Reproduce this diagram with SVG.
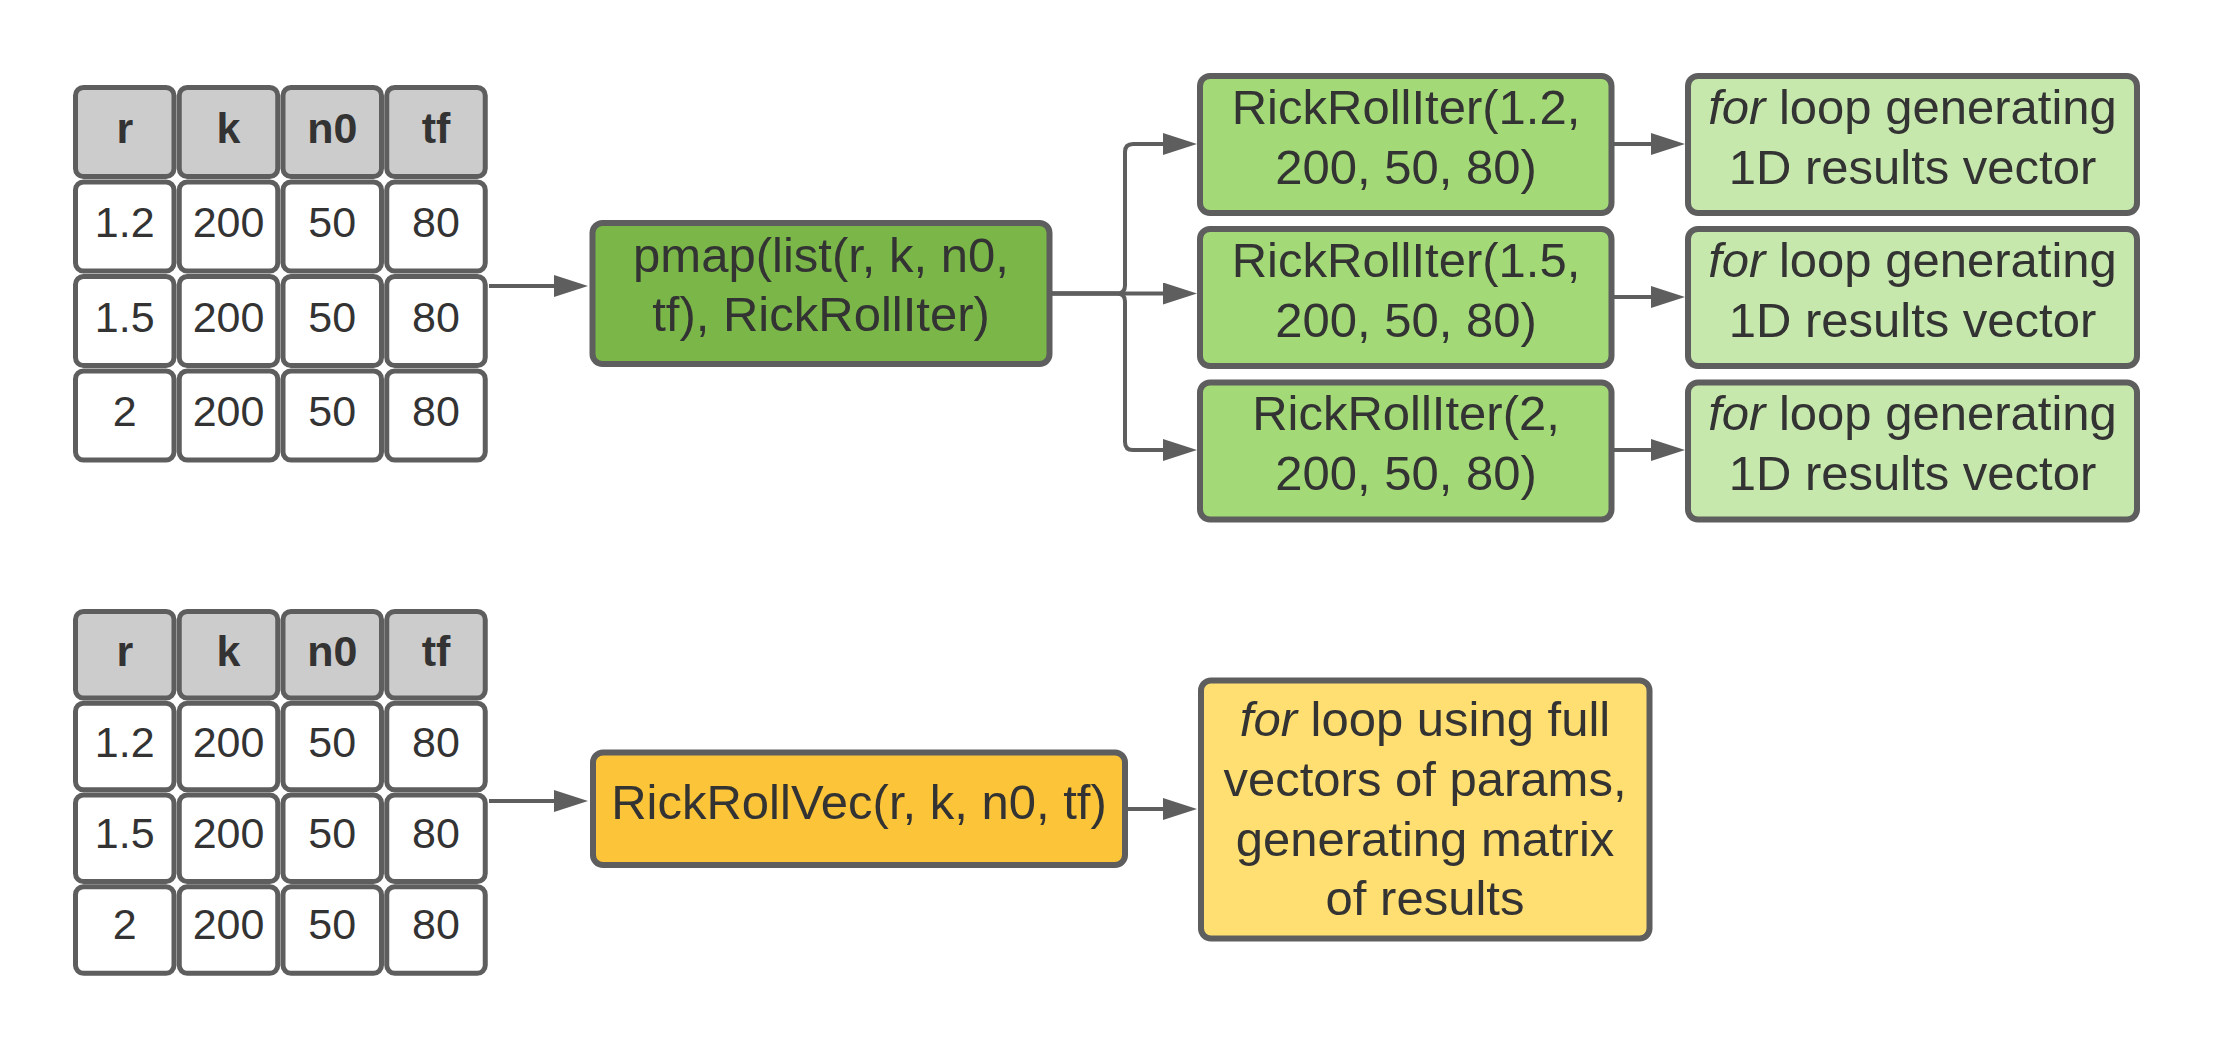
<svg xmlns="http://www.w3.org/2000/svg" width="2213" height="1048" viewBox="0 0 2213 1048">
<style>
.cell{stroke:#5e5e5e;stroke-width:5;fill:#ffffff}
.hdr{fill:#cccccc}
.box{stroke:#5e5e5e;stroke-width:6}
.t{font-family:"Liberation Sans",Arial,sans-serif;fill:#333333;text-anchor:middle}
.tt{font-size:43px}
.th{font-size:43px;font-weight:bold}
.tn{font-size:49px}
.conn{fill:none;stroke:#5e5e5e;stroke-width:4}
</style>
<defs>
<marker id="ah" markerUnits="userSpaceOnUse" markerWidth="34" markerHeight="22" refX="0" refY="11" orient="auto" viewBox="0 0 34 22">
<path d="M0,0 L34,11 L0,22 Z" fill="#5e5e5e"/>
</marker>
</defs>
<rect width="2213" height="1048" fill="#ffffff"/>

<g id="connectors">
<path class="conn" d="M489,286 H554" marker-end="url(#ah)"/>
<path class="conn" d="M1052,293.5 H1117 Q1125,293.5 1125,285.5 V152 Q1125,144 1133,144 H1163" marker-end="url(#ah)"/>
<path class="conn" d="M1052,293.5 H1163" marker-end="url(#ah)"/>
<path class="conn" d="M1052,293.5 H1117 Q1125,293.5 1125,301.5 V442 Q1125,450 1133,450 H1163" marker-end="url(#ah)"/>
<path class="conn" d="M1614,144 H1651" marker-end="url(#ah)"/>
<path class="conn" d="M1614,297 H1651" marker-end="url(#ah)"/>
<path class="conn" d="M1614,450 H1651" marker-end="url(#ah)"/>
<path class="conn" d="M489,801 H554" marker-end="url(#ah)"/>
<path class="conn" d="M1128,809 H1163" marker-end="url(#ah)"/>
</g>

<g id="table-top">
<rect class="cell hdr" x="75.5" y="87.5" width="98.5" height="89" rx="8"/>
<rect class="cell hdr" x="179.25" y="87.5" width="98.5" height="89" rx="8"/>
<rect class="cell hdr" x="283" y="87.5" width="98.5" height="89" rx="8"/>
<rect class="cell hdr" x="386.75" y="87.5" width="98.5" height="89" rx="8"/>
<rect class="cell" x="75.5" y="182" width="98.5" height="89" rx="8"/>
<rect class="cell" x="179.25" y="182" width="98.5" height="89" rx="8"/>
<rect class="cell" x="283" y="182" width="98.5" height="89" rx="8"/>
<rect class="cell" x="386.75" y="182" width="98.5" height="89" rx="8"/>
<rect class="cell" x="75.5" y="276.5" width="98.5" height="89" rx="8"/>
<rect class="cell" x="179.25" y="276.5" width="98.5" height="89" rx="8"/>
<rect class="cell" x="283" y="276.5" width="98.5" height="89" rx="8"/>
<rect class="cell" x="386.75" y="276.5" width="98.5" height="89" rx="8"/>
<rect class="cell" x="75.5" y="371" width="98.5" height="89" rx="8"/>
<rect class="cell" x="179.25" y="371" width="98.5" height="89" rx="8"/>
<rect class="cell" x="283" y="371" width="98.5" height="89" rx="8"/>
<rect class="cell" x="386.75" y="371" width="98.5" height="89" rx="8"/>
<text class="t th" x="124.75" y="142.5">r</text>
<text class="t th" x="228.5" y="142.5">k</text>
<text class="t th" x="332.25" y="142.5">n0</text>
<text class="t th" x="436" y="142.5">tf</text>
<text class="t tt" x="124.75" y="237">1.2</text>
<text class="t tt" x="228.5" y="237">200</text>
<text class="t tt" x="332.25" y="237">50</text>
<text class="t tt" x="436" y="237">80</text>
<text class="t tt" x="124.75" y="331.5">1.5</text>
<text class="t tt" x="228.5" y="331.5">200</text>
<text class="t tt" x="332.25" y="331.5">50</text>
<text class="t tt" x="436" y="331.5">80</text>
<text class="t tt" x="124.75" y="426">2</text>
<text class="t tt" x="228.5" y="426">200</text>
<text class="t tt" x="332.25" y="426">50</text>
<text class="t tt" x="436" y="426">80</text>
</g>

<g id="pmap">
<rect class="box" x="592.5" y="223" width="457" height="141" rx="10" fill="#7ab648"/>
<text class="t tn" x="821" y="272">pmap(list(r, k, n0,</text>
<text class="t tn" x="821" y="331">tf), RickRollIter)</text>
</g>

<g id="iter1">
<rect class="box" x="1200" y="76" width="411.5" height="137" rx="10" fill="#a3d977"/>
<text class="t tn" x="1406" y="123.5">RickRollIter(1.2,</text>
<text class="t tn" x="1406" y="183.5">200, 50, 80)</text>
</g>
<g id="iter2">
<rect class="box" x="1200" y="229" width="411.5" height="137" rx="10" fill="#a3d977"/>
<text class="t tn" x="1406" y="276.5">RickRollIter(1.5,</text>
<text class="t tn" x="1406" y="336.5">200, 50, 80)</text>
</g>
<g id="iter3">
<rect class="box" x="1200" y="382.5" width="411.5" height="137" rx="10" fill="#a3d977"/>
<text class="t tn" x="1406" y="430">RickRollIter(2,</text>
<text class="t tn" x="1406" y="490">200, 50, 80)</text>
</g>

<g id="result1">
<rect class="box" x="1688" y="76" width="449" height="137" rx="10" fill="#c7e8ac"/>
<text class="t tn" x="1912.5" y="123.5"><tspan font-style="italic">for</tspan> loop generating</text>
<text class="t tn" x="1912.5" y="183.5">1D results vector</text>
</g>
<g id="result2">
<rect class="box" x="1688" y="229" width="449" height="137" rx="10" fill="#c7e8ac"/>
<text class="t tn" x="1912.5" y="276.5"><tspan font-style="italic">for</tspan> loop generating</text>
<text class="t tn" x="1912.5" y="336.5">1D results vector</text>
</g>
<g id="result3">
<rect class="box" x="1688" y="382.5" width="449" height="137" rx="10" fill="#c7e8ac"/>
<text class="t tn" x="1912.5" y="430"><tspan font-style="italic">for</tspan> loop generating</text>
<text class="t tn" x="1912.5" y="490">1D results vector</text>
</g>

<g id="table-bottom">
<rect class="cell hdr" x="75.5" y="611.5" width="98.5" height="86.5" rx="8"/>
<rect class="cell hdr" x="179.25" y="611.5" width="98.5" height="86.5" rx="8"/>
<rect class="cell hdr" x="283" y="611.5" width="98.5" height="86.5" rx="8"/>
<rect class="cell hdr" x="386.75" y="611.5" width="98.5" height="86.5" rx="8"/>
<rect class="cell" x="75.5" y="703.25" width="98.5" height="86.5" rx="8"/>
<rect class="cell" x="179.25" y="703.25" width="98.5" height="86.5" rx="8"/>
<rect class="cell" x="283" y="703.25" width="98.5" height="86.5" rx="8"/>
<rect class="cell" x="386.75" y="703.25" width="98.5" height="86.5" rx="8"/>
<rect class="cell" x="75.5" y="795" width="98.5" height="86.5" rx="8"/>
<rect class="cell" x="179.25" y="795" width="98.5" height="86.5" rx="8"/>
<rect class="cell" x="283" y="795" width="98.5" height="86.5" rx="8"/>
<rect class="cell" x="386.75" y="795" width="98.5" height="86.5" rx="8"/>
<rect class="cell" x="75.5" y="886.75" width="98.5" height="86.5" rx="8"/>
<rect class="cell" x="179.25" y="886.75" width="98.5" height="86.5" rx="8"/>
<rect class="cell" x="283" y="886.75" width="98.5" height="86.5" rx="8"/>
<rect class="cell" x="386.75" y="886.75" width="98.5" height="86.5" rx="8"/>
<text class="t th" x="124.75" y="665.5">r</text>
<text class="t th" x="228.5" y="665.5">k</text>
<text class="t th" x="332.25" y="665.5">n0</text>
<text class="t th" x="436" y="665.5">tf</text>
<text class="t tt" x="124.75" y="756.5">1.2</text>
<text class="t tt" x="228.5" y="756.5">200</text>
<text class="t tt" x="332.25" y="756.5">50</text>
<text class="t tt" x="436" y="756.5">80</text>
<text class="t tt" x="124.75" y="847.5">1.5</text>
<text class="t tt" x="228.5" y="847.5">200</text>
<text class="t tt" x="332.25" y="847.5">50</text>
<text class="t tt" x="436" y="847.5">80</text>
<text class="t tt" x="124.75" y="938.5">2</text>
<text class="t tt" x="228.5" y="938.5">200</text>
<text class="t tt" x="332.25" y="938.5">50</text>
<text class="t tt" x="436" y="938.5">80</text>
</g>

<g id="vec">
<rect class="box" x="593" y="752.5" width="532" height="112.5" rx="10" fill="#fcc438"/>
<text class="t tn" x="859" y="819">RickRollVec(r, k, n0, tf)</text>
</g>

<g id="vec-result">
<rect class="box" x="1201" y="680.5" width="448.5" height="258" rx="10" fill="#ffdf71"/>
<text class="t tn" x="1425" y="736"><tspan font-style="italic">for</tspan> loop using full</text>
<text class="t tn" x="1425" y="796">vectors of params,</text>
<text class="t tn" x="1425" y="855.5">generating matrix</text>
<text class="t tn" x="1425" y="915">of results</text>
</g>
</svg>
